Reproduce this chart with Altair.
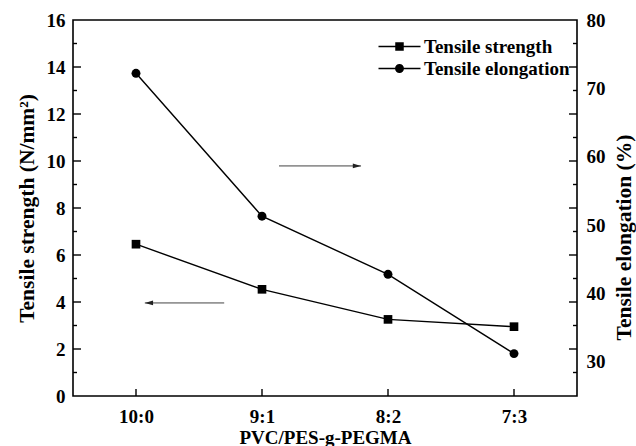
import altair as alt
import pandas as pd

# Blend ratios and measured properties
ratios = ["10:0", "9:1", "8:2", "7:3"]
strength = [6.46, 4.54, 3.26, 2.95]          # N/mm^2
elongation = [72.2, 51.3, 42.8, 31.2]        # %
series = ["Tensile strength", "Tensile elongation"]

# Left-axis tick values (the frame repeats them on the right side)
major_ticks = [2, 4, 6, 8, 10, 12, 14]
minor_ticks = [1, 3, 5, 7, 9, 11, 13, 15]
right_labels = [30, 40, 50, 60, 70, 80]

# Arrows pointing each curve to its axis: x in category units, y in N/mm^2
arrow_right = {"x0": 1.135, "x1": 1.786, "y": 9.79}
arrow_left = {"x0": 0.70, "x1": 0.07, "y": 3.96}

FONT = "Liberation Serif"
W, H = 504, 376

df = pd.DataFrame({
    "idx": list(range(len(ratios))),
    "ratio": ratios,
    "strength": strength,
    "elongation": elongation,
})

label_expr = "[" + ",".join(f"'{r}'" for r in ratios) + "][datum.value]"

x_enc = alt.X(
    "idx:Q",
    scale=alt.Scale(domain=[-0.5, len(ratios) - 0.5], nice=False, zero=False),
    axis=alt.Axis(
        values=list(range(len(ratios))),
        labelExpr=label_expr,
        title="PVC/PES-g-PEGMA",
        ticks=False,
        domain=False,
        grid=False,
        labelPadding=11,
        titlePadding=2,
        labelFontSize=19,
        titleFontSize=19,
    ),
)

left_scale = alt.Scale(domain=[0, 16], nice=False, zero=False)
right_scale = alt.Scale(domain=[25, 80], nice=False, zero=False)

left_axis = alt.Axis(
    values=list(range(0, 17, 2)),
    title="Tensile strength (N/mm²)",
    ticks=False,
    domain=False,
    grid=False,
    labelPadding=8,
    titlePadding=8,
    labelFontSize=19,
    titleFontSize=21.5,
)


def ly(field):
    """y channel on the tensile-strength scale."""
    return alt.Y(field, scale=left_scale, axis=left_axis, title="Tensile strength (N/mm²)")


base = alt.Chart(df)

# ---- left scale group: tensile strength, ticks, arrows, legend ----
strength_line = base.mark_line(color="black", strokeWidth=1.4).encode(x=x_enc, y=ly("strength:Q"))
strength_pts = base.mark_point(shape="square", filled=True, color="black", size=75, opacity=1).encode(
    x="idx:Q", y=ly("strength:Q")
)

ticks_df = pd.DataFrame(
    {"v": major_ticks + minor_ticks, "kind": ["major"] * len(major_ticks) + ["minor"] * len(minor_ticks)}
)
tick_base = alt.Chart(ticks_df)


def tick_rule(kind, x0, x1):
    return tick_base.transform_filter(f"datum.kind == '{kind}'").mark_rule(
        color="black", strokeWidth=1.4
    ).encode(y=ly("v:Q"), x=alt.value(x0), x2=alt.value(x1))


ticks_left_major = tick_rule("major", 0, 8)
ticks_left_minor = tick_rule("minor", 0, 4)
ticks_right_major = tick_rule("major", W, W - 8)
ticks_right_minor = tick_rule("minor", W, W - 4)
ticks_bottom = base.mark_rule(color="black", strokeWidth=1.4).encode(
    x="idx:Q", y=alt.value(H), y2=alt.value(H - 7)
)

arrows_df = pd.DataFrame([
    {"x0": arrow_right["x0"], "x1": arrow_right["x1"], "y": arrow_right["y"], "dir": "right"},
    {"x0": arrow_left["x0"], "x1": arrow_left["x1"], "y": arrow_left["y"], "dir": "left"},
])
arrow_base = alt.Chart(arrows_df)
arrow_shafts = arrow_base.mark_rule(color="#444", strokeWidth=1).encode(
    x="x0:Q", x2="x1:Q", y=ly("y:Q")
)
head_right = arrow_base.transform_filter("datum.dir == 'right'").mark_point(
    shape="M0,0L-2.6,-0.75L-2.6,0.75Z", filled=True, color="#222", size=40, opacity=1
).encode(x="x1:Q", y=ly("y:Q"))
head_left = arrow_base.transform_filter("datum.dir == 'left'").mark_point(
    shape="M0,0L2.6,-0.75L2.6,0.75Z", filled=True, color="#222", size=40, opacity=1
).encode(x="x1:Q", y=ly("y:Q"))

# legend symbols: a line running through the marker (symbolSize 100 -> 5 px per unit)
legend_df = pd.DataFrame({"series": series, "v": [0, 0]})
sq_line = "M-4.2,-0.16H4.2V0.16H-4.2Z M-0.85,-0.85H0.85V0.85H-0.85Z"
ci_line = ("M-4.2,-0.16H4.2V0.16H-4.2Z "
           "M-0.9,0C-0.9,-0.497 -0.497,-0.9 0,-0.9"
           "C0.497,-0.9 0.9,-0.497 0.9,0"
           "C0.9,0.497 0.497,0.9 0,0.9"
           "C-0.497,0.9 -0.9,0.497 -0.9,0Z")
legend_layer = alt.Chart(legend_df).transform_filter("false").mark_point(
    filled=True, color="black", opacity=1
).encode(
    x=alt.value(0),
    y=ly("v:Q"),
    shape=alt.Shape(
        "series:N",
        scale=alt.Scale(domain=series, range=[sq_line, ci_line]),
        legend=alt.Legend(
            title=None,
            orient="none",
            legendX=317,
            legendY=17,
            padding=0,
            symbolSize=100,
            symbolStrokeWidth=0,
            symbolFillColor="black",
            labelFont=FONT,
            labelFontWeight="bold",
            labelFontSize=19,
            labelColor="black",
            labelOffset=15,
            labelLimit=400,
            rowPadding=2,
        ),
    ),
)

left = alt.layer(
    strength_line, strength_pts,
    ticks_left_major, ticks_left_minor, ticks_right_major, ticks_right_minor, ticks_bottom,
    arrow_shafts, head_right, head_left, legend_layer,
)

# ---- right scale group: tensile elongation ----
elong_line = base.mark_line(color="black", strokeWidth=1.4).encode(
    x="idx:Q",
    y=alt.Y(
        "elongation:Q",
        scale=right_scale,
        axis=alt.Axis(
            orient="right",
            values=right_labels,
            title="Tensile elongation (%)",
            titleAngle=270,
            titleBaseline="top",
            titleAlign="center",
            titleY=217,
            ticks=False,
            domain=False,
            grid=False,
            labelPadding=9,
            titlePadding=8,
            labelFontSize=19,
            titleFontSize=21.5,
        ),
    ),
)
elong_pts = base.mark_point(shape="circle", filled=True, color="black", size=80, opacity=1).encode(
    x="idx:Q", y=alt.Y("elongation:Q", scale=right_scale)
)
right = alt.layer(elong_line, elong_pts)

chart = (
    alt.layer(left, right)
    .resolve_scale(y="independent")
    .properties(
        width=W,
        height=H,
        autosize=alt.AutoSizeParams(type="none"),
        padding={"left": 73, "top": 20, "right": 59, "bottom": 50},
        background="white",
    )
    .configure_view(stroke="black", strokeWidth=1.6)
    .configure_axis(
        labelFont=FONT,
        titleFont=FONT,
        labelFontWeight="bold",
        titleFontWeight="bold",
        labelColor="black",
        titleColor="black",
    )
)

chart.save("out.html", embed_options={"renderer": "svg", "actions": False})
